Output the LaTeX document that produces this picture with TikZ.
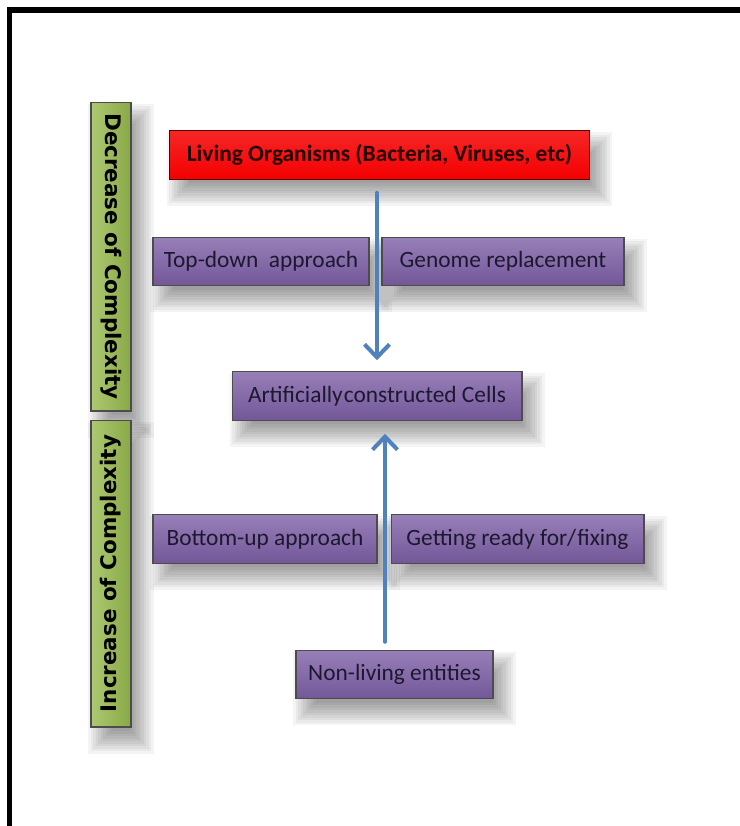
\documentclass[tikz,border=0pt]{standalone}
\usepackage{fontspec}
\setmainfont{Carlito}
\newfontfamily\sidefont{DejaVu Sans}
\usepackage{xcolor}
\usepackage{tikz}
\usetikzlibrary{positioning,calc,arrows.meta,backgrounds}

\definecolor{boxpurple}{HTML}{7D5FA6}
\definecolor{boxgreen}{HTML}{98BB4E}
\definecolor{boxred}{HTML}{F40000}
\definecolor{arrowblue}{HTML}{4F81BD}
\definecolor{inktext}{HTML}{1C1830}

\tikzset{
    stepbox/.style={draw=black!70, line width=0.6pt, inner sep=0pt, minimum height=0.97cm,
        top color=boxpurple!80!white, bottom color=boxpurple!92!black, text=inktext,
        font=\fontsize{13.3}{15}\selectfont},
    topbox/.style={stepbox, draw=red!35!black, top color=boxred!85!white, bottom color=boxred,
        text=red!15!black, font=\fontsize{13.3}{15}\selectfont\bfseries},
    sidebar/.style={draw=black!70, line width=0.6pt, inner sep=0pt, minimum width=0.8cm,
        left color=boxgreen!80!white, right color=boxgreen!90!black},
    sidetext/.style={font=\sidefont\bfseries\fontsize{12.2}{14}\selectfont, text=black},
    shadowlayer/.style={black, opacity=0.045},
    flow/.style={arrowblue, line width=2.3pt, line cap=round, line join=round,
        -{Straight Barb[length=0.26cm, width=0.5cm, line width=2.3pt]}}
}

\begin{document}
\begin{tikzpicture}[x=0.02cm, y=-0.02cm]
    \useasboundingbox (0,0) rectangle (740,826);

    % frame
    \draw[line width=0.12cm] (9.5,826) -- (9.5,9.5) -- (740,9.5);

    % side bars
    \node[sidebar, minimum height=6.18cm] (decrease) at (111,256.5) {};
    \node[sidetext, rotate=-90] (decreasetext) at (decrease) {Decrease of Complexity};
    \node[sidebar, minimum height=6.14cm] (increase) at (111,573.5) {};
    \node[sidetext, rotate=90] (increasetext) at (increase) {Increase of Complexity};

    % top-down part
    \node[topbox, minimum width=8.42cm] (living) at (379.5,155) {Living Organisms (Bacteria, Viruses, etc)};
    \node[stepbox, minimum width=4.32cm] (topdown) at (261,261.5) {Top-down\ \ approach};
    \node[stepbox, minimum width=4.84cm] (genome) at (503,261.5) {Genome replacement};

    % middle
    \node[stepbox, minimum width=5.8cm] (cells) at (377,396) {Artificially\hspace{0.05em}constructed Cells};

    % bottom-up part
    \node[stepbox, minimum width=4.48cm] (bottomup) at (265,539) {Bottom-up approach};
    \node[stepbox, minimum width=5.06cm] (fixing) at (517.5,539) {Getting ready for/\hspace{0.05em}fixing};
    \node[stepbox, minimum width=3.94cm] (nonliving) at (394.5,674.5) {Non-living entities};

    % arrows
    \coordinate (downx) at (377,0);
    \coordinate (upx) at (385,0);
    \draw[flow, shorten <=0.26cm, shorten >=0.22cm] (living.south -| downx) -- (cells.north -| downx);
    \draw[flow, shorten <=0.16cm, shorten >=0.26cm] (nonliving.north -| upx) -- (cells.south -| upx);

    % soft shadows under the boxes
    \begin{scope}[on background layer]
        \fill[white] (0,0) rectangle (740,826);
        \foreach \n in {decrease,increase,living,topdown,genome,cells,bottomup,fixing,nonliving}
            \foreach \e in {12,9.5,...,-10.5}
                \fill[shadowlayer] ($(\n.south west)+(10-\e,14+\e)$) rectangle ($(\n.north east)+(10+\e,14-\e)$);
    \end{scope}
\end{tikzpicture}
\end{document}
